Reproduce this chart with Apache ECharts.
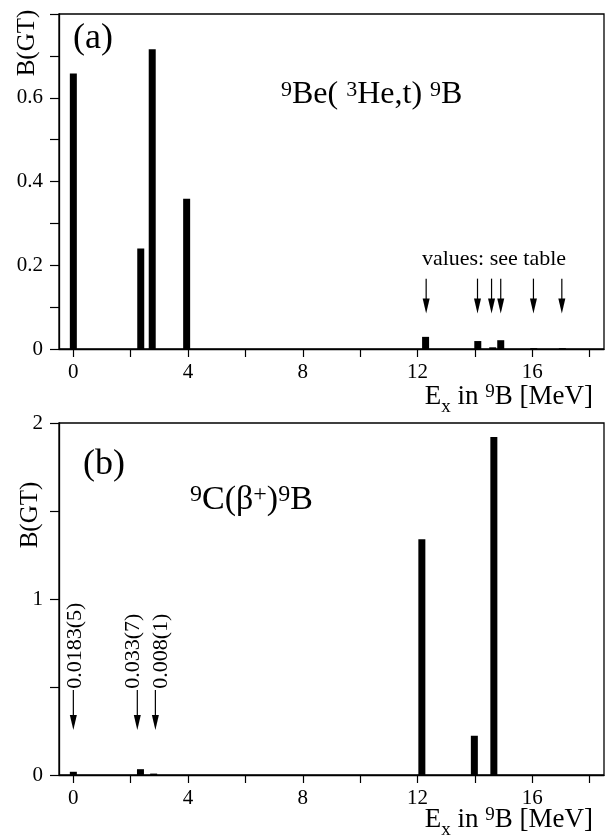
<!DOCTYPE html>
<html lang="en">
<head>
  <meta charset="UTF-8">
  <title>B(GT) in 9B</title>
  <script src="https://cdn.jsdelivr.net/npm/echarts@6/dist/echarts.min.js"></script>
  <style>
    html, body { margin: 0; padding: 0; background: #fff; }
    #chart { width: 606px; height: 838px; }
  </style>
</head>
<body>
<div id="chart"></div>
<script>
  // panel (a): 9Be(3He,t)9B
  let exA = [0, 2.35, 2.75, 3.95, 12.28, 14.1, 14.62, 14.9, 16.05, 17.05];
  let bgtA = [0.658, 0.240, 0.716, 0.359, 0.029, 0.019, 0.004, 0.021, 0.002, 0.002];
  let arrowXA = [12.3, 14.09, 14.58, 14.9, 16.04, 17.03];

  // panel (b): 9C(beta+)9B
  let exB = [0, 2.34, 2.8, 12.15, 13.98, 14.66];
  let bgtB = [0.0183, 0.033, 0.008, 1.34, 0.223, 1.92];
  let arrowXB = [0, 2.23, 2.86];
  let labelXB = [0.06, 2.1, 3.07];
  let valueLabelsB = ['0.0183(5)', '0.033(7)', '0.008(1)'];

  // axes
  let xTicks = [0, 2, 4, 6, 8, 10, 12, 14, 16, 18];
  let xLabels = [0, 4, 8, 12, 16];
  let yTicksA = [0, 0.1, 0.2, 0.3, 0.4, 0.5, 0.6, 0.7, 0.8];
  let yLabelsA = [0, 0.2, 0.4, 0.6];
  let yTicksB = [0, 0.5, 1, 1.5, 2];
  let yLabelsB = [0, 1, 2];

  const serif = 'Liberation Serif';
  let chart = echarts.init(document.getElementById('chart'));

  function xAxis(idx) {
    return {
      type: 'value', gridIndex: idx, min: -0.5, max: 18.5,
      axisLine: { show: true, onZero: false, lineStyle: { color: '#000', width: 1.3 } },
      axisTick: { show: true, customValues: xTicks, length: 8, lineStyle: { color: '#000', width: 1.2 } },
      axisLabel: { customValues: xLabels, color: '#000', fontSize: 21, fontFamily: serif, margin: 13 },
      splitLine: { show: false }
    };
  }
  function yAxis(idx, max, ticks, labels) {
    return {
      type: 'value', gridIndex: idx, min: 0, max: max,
      axisLine: { show: true, onZero: false, lineStyle: { color: '#000', width: 1.3 } },
      axisTick: { show: true, customValues: ticks, length: 9, lineStyle: { color: '#000', width: 1.2 } },
      axisLabel: { customValues: labels, color: '#000', fontSize: 21, fontFamily: serif, margin: 16 },
      splitLine: { show: false }
    };
  }

  function arrowItem(params, api) {
    let top = api.coord([api.value(0), api.value(1)]);
    let tip = api.coord([api.value(0), api.value(2)]);
    return {
      type: 'group',
      children: [
        { type: 'line', shape: { x1: top[0], y1: top[1], x2: tip[0], y2: tip[1] - 12 },
          style: { stroke: '#000', lineWidth: 1.2 } },
        { type: 'polygon', shape: { points: [[tip[0] - 3.5, tip[1] - 15], [tip[0] + 3.5, tip[1] - 15], [tip[0], tip[1]]] },
          style: { fill: '#000' } }
      ]
    };
  }

  function valueLabelItem(params, api) {
    let p = api.coord([api.value(0), api.value(1)]);
    return {
      type: 'text', x: p[0], y: p[1], rotation: Math.PI / 2,
      style: { text: valueLabelsB[params.dataIndex], fontSize: 22, fontFamily: serif, fill: '#000',
        align: 'left', verticalAlign: 'middle' }
    };
  }

  function rich(size) {
    let s = Math.round(size * 0.7);
    return {
      m: { fontSize: size, fontFamily: serif, lineHeight: size, verticalAlign: 'top' },
      sup: { fontSize: s, fontFamily: serif, lineHeight: s, verticalAlign: 'top' },
      sub: { fontSize: s, fontFamily: serif, lineHeight: s, verticalAlign: 'top', padding: [Math.round(size * 0.55), 0, 0, 0] }
    };
  }

  function label(text, x, y, size, align, rotation) {
    return {
      type: 'text', x: x, y: y, rotation: rotation || 0,
      style: { text: text, fontSize: size, fontFamily: serif, fill: '#000', align: align, verticalAlign: 'middle' }
    };
  }
  function richText(text, x, y, size, align) {
    return {
      type: 'text', x: x, y: y,
      style: { text: text, rich: rich(size), fontSize: size, fontFamily: serif, fill: '#000',
        align: align, verticalAlign: 'top' }
    };
  }

  let option = {
    animation: false,
    backgroundColor: '#fff',
    grid: [
      { left: 59, top: 14, width: 545, height: 335, show: true, borderColor: '#000', borderWidth: 1.3, backgroundColor: 'transparent' },
      { left: 59, top: 423, width: 545, height: 352, show: true, borderColor: '#000', borderWidth: 1.3, backgroundColor: 'transparent' }
    ],
    xAxis: [xAxis(0), xAxis(1)],
    yAxis: [yAxis(0, 0.8, yTicksA, yLabelsA), yAxis(1, 2, yTicksB, yLabelsB)],
    series: [
      {
        type: 'bar', xAxisIndex: 0, yAxisIndex: 0, barWidth: 7,
        itemStyle: { color: '#000' },
        data: exA.map((x, i) => [x, bgtA[i]])
      },
      {
        type: 'bar', xAxisIndex: 1, yAxisIndex: 1, barWidth: 7,
        itemStyle: { color: '#000' },
        data: exB.map((x, i) => [x, bgtB[i]])
      },
      {
        type: 'custom', xAxisIndex: 0, yAxisIndex: 0, renderItem: arrowItem,
        encode: { x: 0, y: [1, 2] },
        data: arrowXA.map(x => [x, 0.168, 0.085])
      },
      {
        type: 'custom', xAxisIndex: 1, yAxisIndex: 1, renderItem: arrowItem,
        encode: { x: 0, y: [1, 2] },
        data: arrowXB.map(x => [x, 0.483, 0.256])
      },
      {
        type: 'custom', xAxisIndex: 1, yAxisIndex: 1, renderItem: valueLabelItem,
        encode: { x: 0, y: 1 },
        data: labelXB.map(x => [x, 0.49])
      }
    ],
    graphic: [
      label('(a)', 73, 39, 36, 'left'),
      richText('{sup|9}{m|Be( }{sup|3}{m|He,t) }{sup|9}{m|B}', 281, 79, 32, 'left'),
      label('values: see table', 494, 259, 22, 'center'),
      richText('{m|E}{sub|x}{m| in }{sup|9}{m|B [MeV]}', 593, 383, 27, 'right'),
      label('B(GT)', 27, 43, 25, 'center', Math.PI / 2),
      label('(b)', 83, 465, 36, 'left'),
      richText('{sup|9}{m|C(β}{sup|+}{m|)}{sup|9}{m|B}', 190, 483, 34, 'left'),
      richText('{m|E}{sub|x}{m| in }{sup|9}{m|B [MeV]}', 593, 806, 27, 'right'),
      label('B(GT)', 30, 515, 25, 'center', Math.PI / 2)
    ]
  };
  chart.setOption(option);
</script>
</body>
</html>
